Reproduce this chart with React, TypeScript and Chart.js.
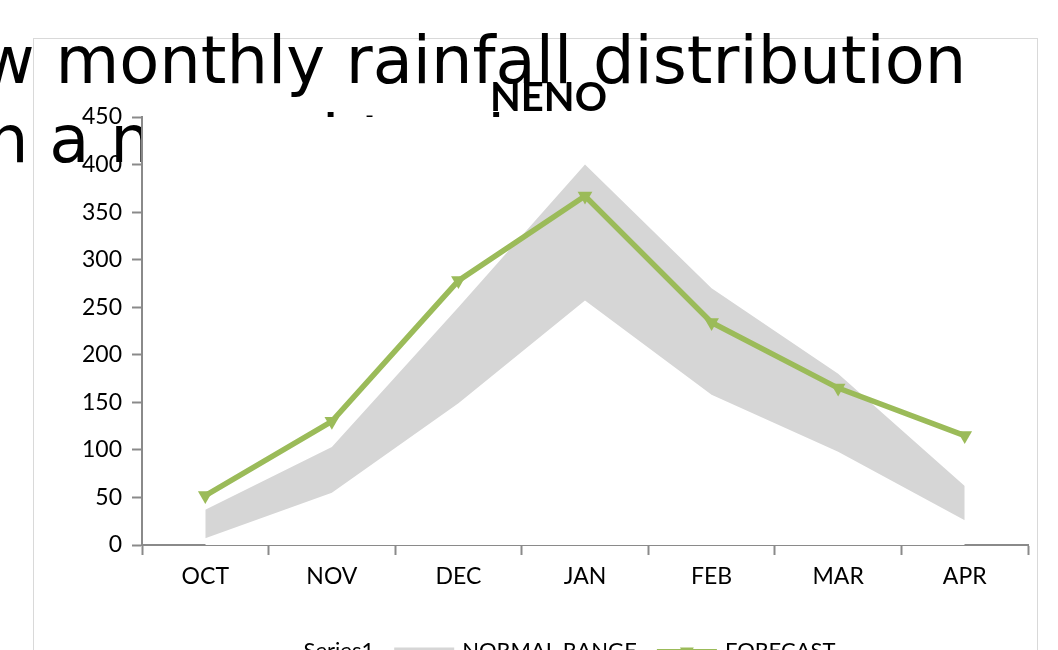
import React, { useEffect, useRef } from 'react';
import { Chart, registerables } from 'chart.js';

Chart.register(...registerables);

// ---- data ----
const categories = ['OCT', 'NOV', 'DEC', 'JAN', 'FEB', 'MAR', 'APR'];
const normalLow = [7, 55, 149, 257, 158, 98, 26];
const normalHigh = [37, 103, 250, 400, 270, 180, 62];
const forecast = [52, 130, 278, 367, 234, 165, 115];
const yMin = 0;
const yMax = 450;
const yStep = 50;
const seriesNames = ['Series1', 'NORMAL RANGE', 'FORECAST'];
const chartTitle = 'NENO';
const captionLines = ['w monthly rainfall distribution', 'h a normal to above'];

const GREEN = '#9BBB59';
const GRAY = '#D6D6D6';
const AXIS = '#8A8A8A';
const FONT = 'Lato';

const plotBackground = {
  id: 'plotBackground',
  beforeDraw(chart: any) {
    const { ctx, chartArea: a } = chart;
    ctx.save();
    ctx.fillStyle = '#ffffff';
    ctx.fillRect(a.left, a.top, a.right - a.left, a.bottom - a.top);
    ctx.restore();
  },
};

// the title sits a little right of the chart's centre in the original
const titleShift = {
  id: 'titleShift',
  afterLayout(chart: any) {
    const t = chart.titleBlock;
    if (t) {
      t.left += 18;
      t.right += 18;
    }
  },
};

// legend drawn like the spreadsheet one: symbol, small gap, label
const bottomLegend = {
  id: 'bottomLegend',
  afterDraw(chart: any) {
    const ctx = chart.ctx;
    const symW = 60;
    const gap = 8;
    const itemGap = 20;
    const cy = chart.chartArea.bottom + 106.5; // symbol centre line
    const baseline = chart.chartArea.bottom + 113;
    ctx.save();
    ctx.font = `22px ${FONT}`;
    const widths = seriesNames.map((n) => ctx.measureText(n).width);
    const total = widths.reduce((s, w) => s + w + symW + gap, 0) + itemGap * (seriesNames.length - 1);
    let x = chart.width / 2 - total / 2;
    seriesNames.forEach((name, i) => {
      if (i === 1) {
        ctx.fillStyle = GRAY;
        ctx.fillRect(x, cy - 4, symW, 12);
      } else if (i === 2) {
        ctx.strokeStyle = GREEN;
        ctx.lineWidth = 5;
        ctx.beginPath();
        ctx.moveTo(x, cy);
        ctx.lineTo(x + symW, cy);
        ctx.stroke();
        const r = 8;
        const cx = x + symW / 2;
        ctx.fillStyle = GREEN;
        ctx.beginPath();
        ctx.moveTo(cx, cy + r);
        ctx.lineTo(cx - r * Math.sin(Math.PI / 3), cy - r / 2);
        ctx.lineTo(cx + r * Math.sin(Math.PI / 3), cy - r / 2);
        ctx.closePath();
        ctx.fill();
      }
      ctx.fillStyle = '#000';
      ctx.textAlign = 'left';
      ctx.textBaseline = 'alphabetic';
      ctx.fillText(name, x + symW + gap, baseline);
      x += symW + gap + widths[i] + itemGap;
    });
    ctx.restore();
  },
};

export default function App() {
  const ref = useRef<HTMLCanvasElement | null>(null);

  useEffect(() => {
    if (!ref.current) return;
    Chart.defaults.font.family = FONT;
    const chart = new Chart(ref.current, {
      type: 'line',
      data: {
        labels: categories,
        datasets: [
          {
            label: seriesNames[0],
            data: normalLow,
            borderWidth: 0,
            borderColor: 'rgba(0,0,0,0)',
            backgroundColor: '#ffffff',
            pointRadius: 0,
            fill: 'origin',
            order: 3,
            tension: 0,
          },
          {
            label: seriesNames[1],
            data: normalHigh,
            borderWidth: 0,
            borderColor: 'rgba(0,0,0,0)',
            backgroundColor: GRAY,
            pointRadius: 0,
            fill: '-1',
            order: 2,
            tension: 0,
          },
          {
            label: seriesNames[2],
            data: forecast,
            borderColor: GREEN,
            backgroundColor: GREEN,
            borderWidth: 5.5,
            pointStyle: 'triangle',
            rotation: 180,
            pointRadius: 8.5,
            pointBorderWidth: 0,
            pointBackgroundColor: GREEN,
            fill: false,
            order: 1,
            tension: 0,
          },
        ],
      },
      options: {
        animation: false,
        responsive: false,
        devicePixelRatio: 1,
        events: [],
        layout: { padding: { left: 0, right: 10, top: 0, bottom: 116 } },
        plugins: {
          title: {
            display: true,
            text: chartTitle,
            color: '#000',
            font: { family: FONT, size: 40, weight: 'bold', lineHeight: 1 },
            padding: { top: 40.5, bottom: -1.5 },
          },
          legend: { display: false },
          tooltip: { enabled: false },
        },
        scales: {
          x: {
            offset: true,
            grid: {
              display: true,
              offset: true,
              drawOnChartArea: false,
              drawTicks: true,
              tickLength: 10,
              tickColor: AXIS,
              tickWidth: 2,
            },
            border: { display: true, color: AXIS, width: 2 },
            ticks: { color: '#000', font: { family: FONT, size: 23 }, padding: 8, maxRotation: 0 },
            afterFit: (s: any) => { s.height = 77; },
          },
          y: {
            min: yMin,
            max: yMax,
            grid: {
              display: true,
              drawOnChartArea: false,
              drawTicks: true,
              tickLength: 10,
              tickColor: AXIS,
              tickWidth: 2,
            },
            border: { display: true, color: AXIS, width: 2 },
            ticks: { stepSize: yStep, color: '#000', font: { family: FONT, size: 23 }, padding: 10 },
            afterFit: (s: any) => { s.width = 109; },
          },
        },
      },
      plugins: [plotBackground, titleShift, bottomLegend],
    });
    return () => chart.destroy();
  }, []);

  const captionStyle: React.CSSProperties = {
    position: 'absolute',
    fontFamily: '"DejaVu Sans"',
    fontSize: 65.5,
    lineHeight: 'normal',
    whiteSpace: 'nowrap',
    color: '#000',
  };

  return (
    <div style={{ position: 'fixed', left: 0, top: 0, width: 1058, height: 650, overflow: 'hidden', background: '#fff' }}>
      <div
        style={{
          position: 'absolute',
          left: 33,
          top: 38,
          width: 1005,
          height: 700,
          border: '1px solid #d9d9d9',
          boxSizing: 'border-box',
        }}
      />
      <div style={{ ...captionStyle, left: -19, top: 22 }}>{captionLines[0]}</div>
      <div style={{ ...captionStyle, left: -13, top: 101 }}>{captionLines[1]}</div>
      <div style={{ position: 'absolute', left: 33, top: 38 }}>
        <canvas ref={ref} width={1005} height={700} style={{ display: 'block', width: 1005, height: 700 }} />
      </div>
    </div>
  );
}
